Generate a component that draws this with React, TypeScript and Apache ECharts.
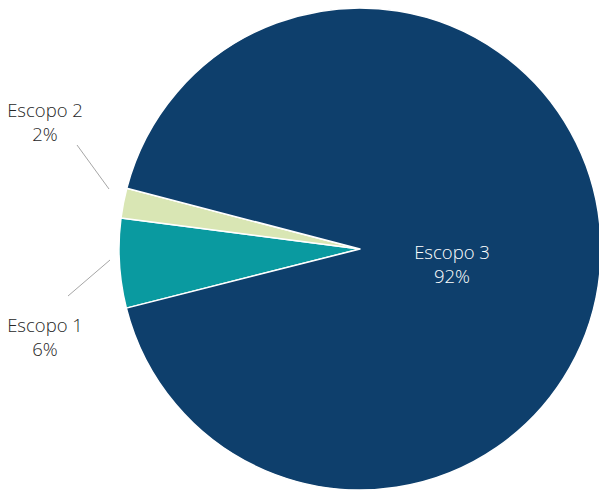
import React, { useEffect, useRef } from "react";
import * as echarts from "echarts";

const categories = ["Escopo 1", "Escopo 2", "Escopo 3"];
const values = [6, 2, 92];
const colors = ["#0a9aa0", "#d9e6b4", "#0e3f6c"];

export default function App() {
  const ref = useRef<HTMLDivElement>(null);
  useEffect(() => {
    document.body.style.margin = "0";
    const chart = echarts.init(ref.current!, null, { renderer: "svg" });
    const labelPos: Record<number, { x: number; y: number }> = {
      0: { x: 45, y: 336 },
      1: { x: 45, y: 121 },
      2: { x: 452, y: 263 },
    };
    chart.setOption({
      animation: false,
      backgroundColor: "#ffffff",
      textStyle: { fontFamily: "'Open Sans', sans-serif" },
      graphic: [
        { type: "line", shape: { x1: 77, y1: 145, x2: 109, y2: 189 }, style: { stroke: "#a6a6a6", lineWidth: 1 } },
        { type: "line", shape: { x1: 68, y1: 296, x2: 110, y2: 260 }, style: { stroke: "#a6a6a6", lineWidth: 1 } },
      ],
      series: [
        {
          type: "pie",
          center: [360, 249],
          radius: 241,
          startAngle: 194.2,
          clockwise: true,
          avoidLabelOverlap: false,
          itemStyle: { borderColor: "#ffffff", borderWidth: 1.5 },
          label: {
            show: true,
            formatter: "{b}\n{d}%",
            fontSize: 18.5,
            fontWeight: 300,
            lineHeight: 24,
            color: "#262626",
            align: "center",
            fontFamily: "'Open Sans', sans-serif",
          },
          labelLine: { show: false },
          labelLayout: (p: any) => ({
            x: labelPos[p.dataIndex].x,
            y: labelPos[p.dataIndex].y,
            align: "center",
            verticalAlign: "middle",
          }),
          data: categories.map((c, i) => ({
            name: c,
            value: values[i],
            itemStyle: { color: colors[i] },
            label: i === 2 ? { color: "#ffffff", position: "inside" } : { position: "outside" },
          })),
        },
      ],
    });
    return () => chart.dispose();
  }, []);
  return <div ref={ref} style={{ width: 599, height: 490 }} />;
}
